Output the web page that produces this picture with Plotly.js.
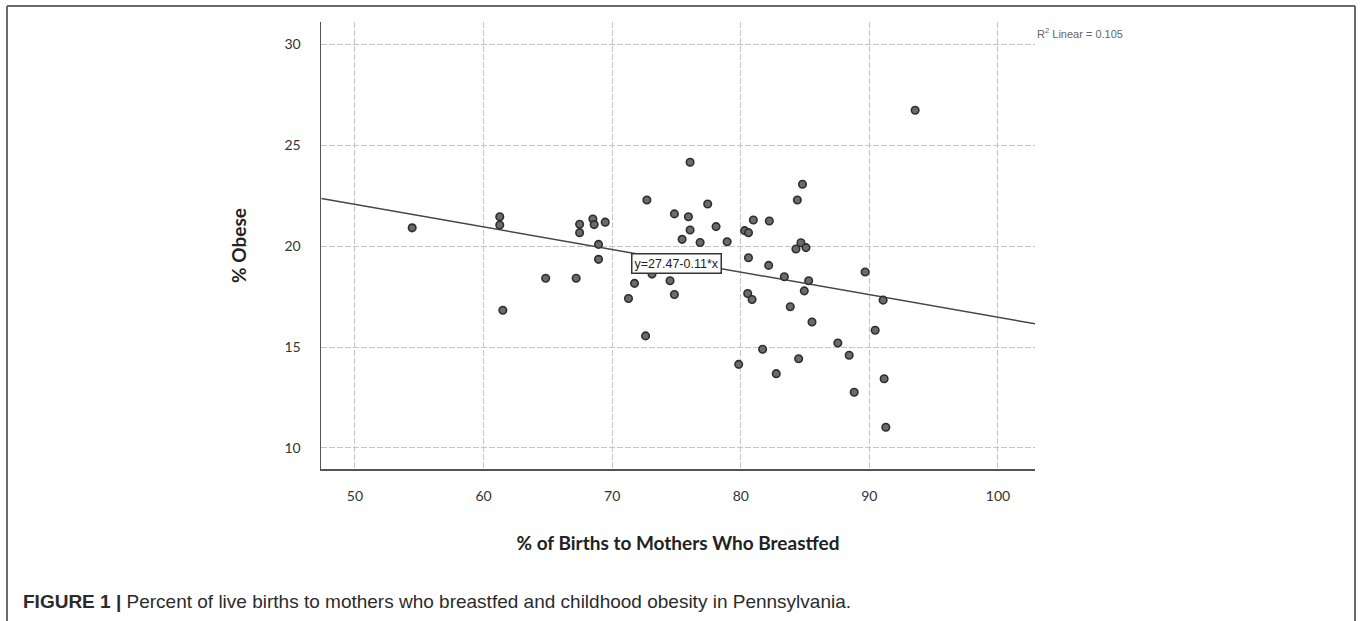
<!DOCTYPE html>
<html>
<head>
<meta charset="utf-8">
<script src="https://cdn.plot.ly/plotly-3.0.1.min.js"></script>
<style>
  html, body { margin: 0; padding: 0; background: #ffffff; }
  #chart { width: 1360px; height: 621px; }
</style>
</head>
<body>
<div id="chart"></div>
<script>
// % of births to mothers who breastfed (x) and % obese (y), one point per county
const breastfedPct = [
  54.45, 61.26, 61.26, 61.5, 64.83, 67.2, 67.47, 67.47, 68.5, 68.6,
  69.46, 68.94, 68.94, 71.74, 71.27, 73.1, 74.5, 74.84, 72.6, 72.7,
  76.06, 74.84, 75.93, 76.06, 75.44, 76.84, 77.43, 78.08, 78.94, 80.3,
  80.6, 80.98, 82.22, 80.6, 82.17, 83.39, 80.54, 80.88, 83.85, 84.29,
  84.68, 85.07, 84.4, 84.8, 85.28, 84.94, 85.54, 81.7, 79.84, 82.76,
  84.5, 87.55, 88.43, 88.82, 89.67, 90.45, 91.07, 91.15, 91.28, 93.56
];
const obesePct = [
  20.9, 21.45, 21.04, 16.82, 18.4, 18.4, 21.08, 20.66, 21.34, 21.06,
  21.18, 20.08, 19.34, 18.15, 17.4, 18.61, 18.28, 17.6, 15.55, 22.28,
  24.15, 21.59, 21.45, 20.79, 20.33, 20.17, 22.08, 20.96, 20.21, 20.76,
  20.66, 21.29, 21.24, 19.42, 19.04, 18.48, 17.65, 17.35, 16.99, 19.85,
  20.16, 19.92, 22.28, 23.06, 18.28, 17.78, 16.24, 14.89, 14.14, 13.68,
  14.42, 15.2, 14.59, 12.76, 18.71, 15.83, 17.32, 13.43, 11.03, 26.72
];
// fitted linear trend (endpoints)
const fitX = [47.4, 102.9];
const fitY = [22.35, 16.15];

const xTickVals = [50, 60, 70, 80, 90, 100];
const yTickVals = [10, 15, 20, 25, 30];

const equationText = 'y=27.47-0.11*x';
const r2Text = 'R<sup>2</sup> Linear = 0.105';
const xTitle = '% of Births to Mothers Who Breastfed';
const yTitle = '% Obese';
const captionText = '<b>FIGURE 1 |</b> Percent of live births to mothers who breastfed and childhood obesity in Pennsylvania.';

const traces = [
  {
    x: fitX, y: fitY, type: 'scatter', mode: 'lines',
    line: { color: '#474747', width: 1.5 },
    hoverinfo: 'skip', showlegend: false
  },
  {
    x: breastfedPct, y: obesePct, type: 'scatter', mode: 'markers',
    marker: { size: 7.5, color: '#6b6b6b', line: { color: '#2e2e2e', width: 1.6 } },
    showlegend: false
  }
];

// plot area in pixels: left 321, right 1035, top 22, bottom 469
const L = 321, R = 1035, T = 22, B = 469;
const px = v => (v - L) / (R - L);
const py = v => (B - v) / (B - T);
const frameColor = '#6a6a6a';

const layout = {
  width: 1360, height: 621,
  margin: { l: L, r: 1360 - R, t: T, b: 621 - B },
  paper_bgcolor: '#ffffff', plot_bgcolor: '#ffffff',
  font: { family: 'Lato, "Liberation Sans", Arial, sans-serif', color: '#333' },
  title: {
    text: captionText,
    font: { family: '"Liberation Sans", Arial, sans-serif', size: 19, color: '#2b2b2b' },
    x: 23 / 1360, xref: 'container', xanchor: 'left',
    y: 1 - 601 / 621, yref: 'container', yanchor: 'middle'
  },
  xaxis: {
    range: [47.36, 102.88],
    tickvals: xTickVals,
    ticks: '', ticklabelstandoff: 14,
    tickfont: { size: 14, color: '#333', family: 'Lato, sans-serif' },
    showline: true, linecolor: '#555', linewidth: 1.5,
    showgrid: true, gridcolor: '#c4c4c4', gridwidth: 1, griddash: '6px,2px',
    zeroline: false, fixedrange: true,
    title: { text: '<b>' + xTitle + '</b>', standoff: 33,
             font: { size: 19, color: '#222', family: 'Lato, sans-serif' } }
  },
  yaxis: {
    range: [8.96, 31.09],
    tickvals: yTickVals,
    ticks: '', ticklabelstandoff: 16,
    tickfont: { size: 14, color: '#333', family: 'Lato, sans-serif' },
    showline: true, linecolor: '#555', linewidth: 1.5,
    showgrid: true, gridcolor: '#c4c4c4', gridwidth: 1, griddash: '6px,2px',
    zeroline: false, fixedrange: true,
    title: { text: '<b>' + yTitle + '</b>', standoff: 33,
             font: { size: 19, color: '#222', family: 'Lato, sans-serif' } }
  },
  annotations: [
    {
      text: equationText, xref: 'x', yref: 'y', x: 75.04, y: 19.14,
      showarrow: false, bgcolor: '#ffffff', bordercolor: '#333', borderwidth: 1.5, borderpad: 2,
      font: { family: '"Liberation Sans", Arial, sans-serif', size: 12.5, color: '#222' }
    },
    {
      text: r2Text, xref: 'paper', yref: 'paper', x: px(1035), y: py(33),
      xanchor: 'left', yanchor: 'middle', showarrow: false,
      font: { family: '"Liberation Sans", Arial, sans-serif', size: 11, color: '#666' }
    }
  ],
  shapes: [
    { type: 'line', xref: 'paper', yref: 'paper', x0: px(7), x1: px(1355), y0: py(6), y1: py(6),
      line: { color: frameColor, width: 2 } },
    { type: 'line', xref: 'paper', yref: 'paper', x0: px(7), x1: px(7), y0: py(6), y1: py(622),
      line: { color: frameColor, width: 2 } },
    { type: 'line', xref: 'paper', yref: 'paper', x0: px(1355), x1: px(1355), y0: py(6), y1: py(622),
      line: { color: frameColor, width: 2 } }
  ]
};

Plotly.newPlot('chart', traces, layout, { displayModeBar: false, staticPlot: true });
</script>
</body>
</html>
